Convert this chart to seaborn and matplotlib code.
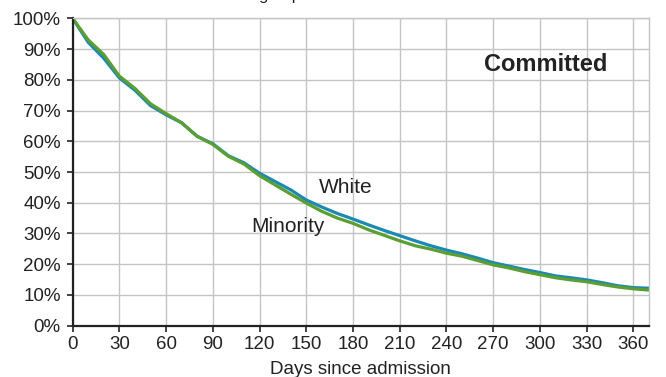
import numpy as np
import pandas as pd
import matplotlib
matplotlib.use("Agg")
import matplotlib.pyplot as plt
import seaborn as sns
from matplotlib.ticker import FuncFormatter

# Share still held, by days since admission
days = list(range(0, 371, 10))
white = [100, 92.2, 87.0, 80.6, 76.6, 71.6, 68.6, 66.0, 61.6, 59.2,
         55.3, 53.0, 49.6, 46.9, 44.2, 40.9, 38.6, 36.5, 34.7, 32.8,
         31.0, 29.3, 27.6, 26.0, 24.6, 23.4, 22.0, 20.5, 19.4, 18.3,
         17.3, 16.2, 15.6, 14.9, 14.0, 13.0, 12.4, 12.2]
minority = [100, 93.0, 88.2, 81.2, 77.2, 72.2, 69.0, 66.0, 61.6, 59.0,
            55.1, 52.6, 48.8, 45.8, 42.8, 39.9, 37.2, 35.0, 33.3, 31.2,
            29.4, 27.6, 26.0, 24.9, 23.6, 22.6, 21.2, 19.8, 18.8, 17.6,
            16.6, 15.6, 14.9, 14.3, 13.4, 12.6, 12.0, 11.6]
series = ["White", "Minority"]
colors = {"White": "#1a8ab4", "Minority": "#5b9e32"}

x_ticks = list(range(0, 361, 30))
y_ticks = list(range(0, 101, 10))

df = pd.DataFrame({
    "days": days * 2,
    "pct": white + minority,
    "group": ["White"] * len(days) + ["Minority"] * len(days),
})

sns.set_theme(style="whitegrid")
plt.rcParams["font.family"] = ["Liberation Sans", "DejaVu Sans"]

fig = plt.figure(figsize=(6.66, 3.77), dpi=100)
ax = fig.add_axes([0.109, 0.136, 0.8655, 0.8155])

sns.lineplot(data=df, x="days", y="pct", hue="group", hue_order=series,
             palette=colors, linewidth=2.3, legend=False, ax=ax)

ax.set_xlim(0, 370)
ax.set_ylim(0, 100)
ax.set_xticks(x_ticks)
ax.set_yticks(y_ticks)
ax.yaxis.set_major_formatter(FuncFormatter(lambda v, _: f"{v:.0f}%"))
ax.grid(True, color="#c4c4c4", linewidth=1.0)
ax.set_axisbelow(True)

for side in ["top", "right"]:
    ax.spines[side].set_color("#c4c4c4")
    ax.spines[side].set_linewidth(1.0)
for side in ["left", "bottom"]:
    ax.spines[side].set_color("#222222")
    ax.spines[side].set_linewidth(1.6)

ax.tick_params(axis="both", which="major", length=4, width=1.2,
               color="#222222", labelsize=13.5, labelcolor="#222222")
ax.tick_params(axis="x", bottom=True, pad=3.5)
ax.tick_params(axis="y", left=True, pad=4.5)

ax.set_xlabel("Days since admission", fontsize=13.5, color="#222222", labelpad=6)
ax.set_ylabel("")

ax.text(175.5, 44.8, "White", fontsize=15, color="#222222", ha="center", va="center")
ax.text(138.3, 32.3, "Minority", fontsize=15, color="#222222", ha="center", va="center")
ax.text(303.5, 84.9, "Committed", fontsize=17, fontweight="bold", color="#222222",
        ha="center", va="center")

# clipped heading above the plot area
fig.text(0.42, 1.012, "group", fontsize=12, color="#222222", ha="center", va="center")

fig.savefig("out.png", dpi=100)
